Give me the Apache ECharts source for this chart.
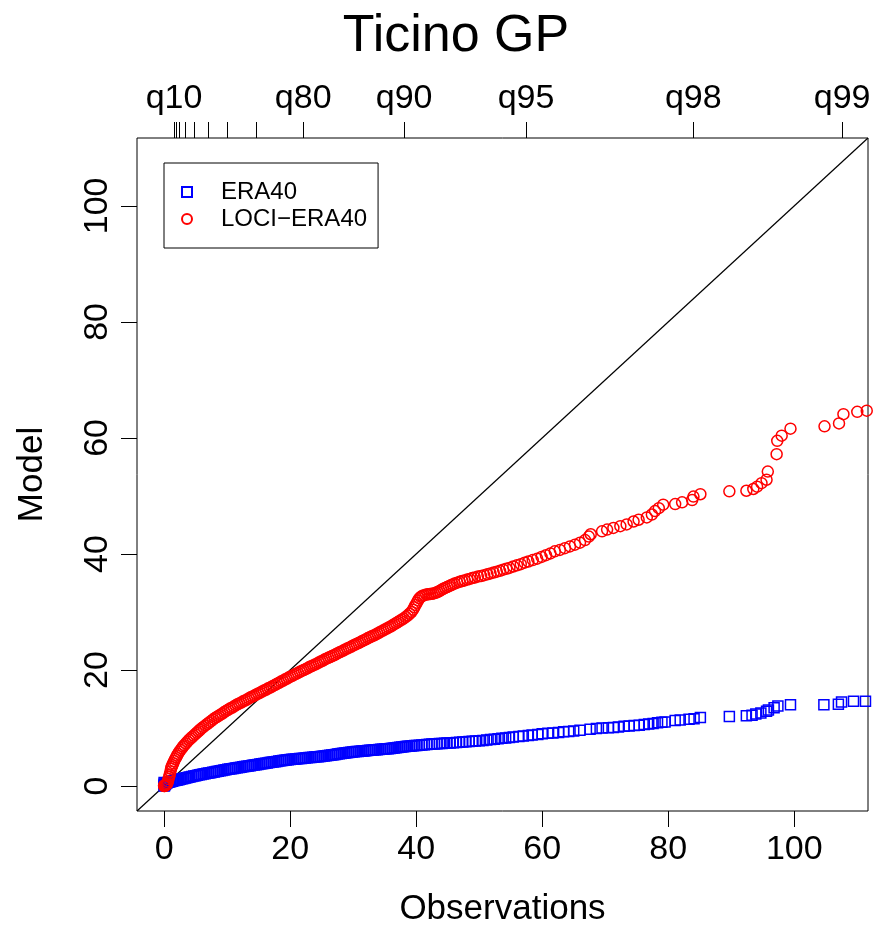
<!DOCTYPE html>
<html><head><meta charset="utf-8">
<script src="https://cdn.jsdelivr.net/npm/echarts@6/dist/echarts.min.js"></script>
<style>html,body{margin:0;padding:0;background:#fff}#c{width:890px;height:932px}</style>
</head><body><div id="c"></div>
<script>
const titleText = 'Ticino GP';
const xName = 'Observations';
const yName = 'Model';
const seriesNames = ['ERA40', 'LOCI\u2212ERA40'];
const axisMin = -4.3, axisMax = 111.7;
const bottomTicks = [0, 20, 40, 60, 80, 100];
const leftTicks = [0, 20, 40, 60, 80, 100];
const topTickValues = [1.57, 1.95, 2.40, 3.38, 4.81, 6.93, 9.99, 14.66, 22.07, 38.09, 57.43, 83.97, 107.59];
const topTickLabels = ['q10', '', '', '', '', '', '', '', 'q80', 'q90', 'q95', 'q98', 'q99'];

const era40 = [[0,0],[0,0.3],[0,0.6],[0.1,0.1],[0.2,0.3],[0.3,0.45],[0.5,0.55],[0.7,0.65],[0.9,0.72],[1.1,0.78],[1.3,0.84],[1.5,0.9],[1.7,0.95],[1.9,1.0],[2.1,1.05],[2.35,1.1],[2.6,1.17],[2.85,1.24],[3.1,1.31],[3.35,1.38],[3.6,1.45],[3.85,1.52],[4.1,1.58],[4.4,1.65],[4.7,1.72],[5.0,1.79],[5.3,1.86],[5.6,1.93],[5.9,2.0],[6.2,2.06],[6.5,2.12],[6.8,2.19],[7.1,2.25],[7.4,2.31],[7.7,2.38],[8.0,2.44],[8.3,2.5],[8.6,2.57],[8.9,2.63],[9.2,2.7],[9.5,2.76],[9.8,2.82],[10.1,2.88],[10.4,2.93],[10.7,2.98],[11.0,3.04],[11.3,3.1],[11.6,3.15],[11.9,3.2],[12.2,3.25],[12.5,3.31],[12.8,3.37],[13.1,3.42],[13.4,3.47],[13.7,3.52],[14.0,3.57],[14.3,3.62],[14.6,3.67],[14.9,3.72],[15.2,3.78],[15.5,3.83],[15.8,3.88],[16.1,3.93],[16.4,3.98],[16.7,4.04],[17.0,4.1],[17.3,4.15],[17.6,4.2],[17.9,4.25],[18.2,4.3],[18.5,4.35],[18.8,4.4],[19.1,4.44],[19.4,4.48],[19.7,4.52],[20.0,4.56],[20.3,4.6],[20.6,4.64],[20.9,4.68],[21.2,4.71],[21.5,4.74],[21.8,4.77],[22.1,4.8],[22.4,4.83],[22.7,4.86],[23.0,4.9],[23.3,4.93],[23.6,4.96],[23.9,5.0],[24.2,5.03],[24.5,5.06],[24.8,5.09],[25.1,5.12],[25.4,5.16],[25.7,5.21],[26.0,5.26],[26.3,5.31],[26.6,5.36],[26.9,5.41],[27.2,5.46],[27.5,5.51],[27.8,5.56],[28.1,5.61],[28.4,5.66],[28.7,5.71],[29.0,5.76],[29.3,5.8],[29.6,5.84],[29.9,5.88],[30.2,5.91],[30.5,5.94],[30.8,5.97],[31.1,6.0],[31.4,6.03],[31.7,6.06],[32.0,6.09],[32.3,6.12],[32.6,6.15],[32.9,6.18],[33.2,6.21],[33.5,6.24],[33.8,6.27],[34.1,6.3],[34.4,6.33],[34.7,6.36],[35.0,6.39],[35.3,6.42],[35.6,6.45],[35.9,6.49],[36.2,6.53],[36.5,6.57],[36.8,6.61],[37.1,6.65],[37.4,6.69],[37.7,6.73],[38.0,6.77],[38.3,6.81],[38.6,6.85],[38.9,6.88],[39.2,6.91],[39.5,6.94],[39.8,6.97],[40.1,7.0],[40.5,7.04],[40.9,7.08],[41.3,7.12],[41.7,7.16],[42.1,7.2],[42.5,7.23],[42.9,7.26],[43.3,7.29],[43.7,7.32],[44.1,7.35],[44.5,7.38],[44.9,7.41],[45.4,7.44],[45.9,7.48],[46.4,7.52],[46.9,7.56],[47.4,7.6],[47.9,7.64],[48.4,7.68],[48.9,7.72],[49.4,7.76],[50.0,7.8],[50.6,7.87],[51.2,7.94],[51.8,8.01],[52.4,8.08],[53.0,8.15],[53.6,8.22],[54.2,8.29],[54.8,8.36],[55.4,8.44],[56.3,8.55],[57.0,8.62],[57.8,8.7],[58.4,8.8],[59.3,8.9],[60.0,9.0],[60.9,9.1],[61.7,9.15],[62.6,9.25],[63.4,9.35],[64.2,9.42],[65.0,9.5],[66.0,9.6],[67.6,9.8],[68.6,9.9],[69.5,10.0],[70.5,10.05],[71.3,10.1],[72.1,10.2],[73.0,10.3],[73.8,10.35],[74.6,10.45],[75.4,10.5],[76.2,10.6],[76.9,10.7],[77.6,10.8],[78.3,10.9],[79.0,11.0],[79.5,11.05],[81.1,11.3],[81.9,11.4],[83.3,11.5],[84.1,11.6],[85.1,11.8],[89.7,12.0],[92.4,12.1],[93.3,12.2],[93.9,12.4],[94.7,12.6],[95.6,12.9],[95.9,13.1],[96.8,13.5],[97.4,13.8],[99.4,14.0],[104.7,14.0],[107.0,14.1],[107.5,14.5],[109.4,14.6],[111.3,14.6]];

const lociEra40 = [[0,0],[0,0.1],[0.1,0],[0.2,0.1],[0.3,0.2],[0.4,0.3],[0.5,0.5],[0.6,0.8],[0.7,1.2],[0.8,1.6],[0.9,2.0],[1.0,2.5],[1.1,3.0],[1.2,3.3],[1.3,3.6],[1.45,3.95],[1.6,4.3],[1.75,4.65],[1.9,4.95],[2.05,5.25],[2.2,5.55],[2.4,5.9],[2.6,6.2],[2.8,6.5],[3.0,6.8],[3.2,7.05],[3.45,7.35],[3.7,7.65],[3.95,7.95],[4.2,8.2],[4.45,8.45],[4.7,8.7],[4.95,8.95],[5.2,9.2],[5.45,9.45],[5.7,9.7],[5.95,9.95],[6.25,10.2],[6.55,10.45],[6.85,10.7],[7.15,10.95],[7.45,11.2],[7.75,11.45],[8.05,11.7],[8.35,11.9],[8.65,12.1],[8.95,12.3],[9.25,12.5],[9.55,12.75],[9.85,12.95],[10.15,13.15],[10.45,13.35],[10.75,13.5],[11.05,13.7],[11.35,13.9],[11.65,14.1],[11.95,14.25],[12.25,14.4],[12.55,14.6],[12.85,14.75],[13.15,14.9],[13.45,15.1],[13.75,15.3],[14.05,15.45],[14.35,15.6],[14.65,15.8],[14.95,15.95],[15.25,16.1],[15.55,16.3],[15.85,16.45],[16.15,16.6],[16.45,16.8],[16.75,16.95],[17.05,17.1],[17.35,17.3],[17.65,17.45],[17.95,17.65],[18.25,17.8],[18.55,18.0],[18.85,18.15],[19.15,18.35],[19.45,18.5],[19.75,18.7],[20.05,18.85],[20.35,19.0],[20.65,19.2],[20.95,19.35],[21.25,19.5],[21.55,19.7],[21.85,19.85],[22.15,20.0],[22.45,20.15],[22.75,20.3],[23.05,20.5],[23.35,20.65],[23.65,20.8],[23.95,20.95],[24.25,21.1],[24.55,21.3],[24.85,21.45],[25.15,21.6],[25.45,21.8],[25.75,21.95],[26.05,22.1],[26.35,22.25],[26.65,22.4],[26.95,22.55],[27.25,22.7],[27.55,22.9],[27.85,23.05],[28.15,23.2],[28.45,23.35],[28.75,23.55],[29.05,23.7],[29.35,23.85],[29.65,24.0],[29.95,24.2],[30.25,24.35],[30.55,24.5],[30.85,24.65],[31.15,24.8],[31.45,25.0],[31.75,25.15],[32.05,25.3],[32.35,25.5],[32.65,25.65],[32.95,25.8],[33.25,25.95],[33.55,26.1],[33.85,26.3],[34.15,26.45],[34.45,26.65],[34.75,26.8],[35.05,27.0],[35.35,27.15],[35.65,27.35],[35.95,27.5],[36.25,27.7],[36.55,27.9],[36.85,28.1],[37.15,28.3],[37.45,28.5],[37.75,28.7],[38.05,28.9],[38.35,29.15],[38.65,29.4],[38.95,29.7],[39.25,30.0],[39.5,30.4],[39.7,30.8],[39.9,31.2],[40.1,31.6],[40.3,32.0],[40.5,32.35],[40.75,32.6],[41.0,32.8],[41.3,32.9],[41.6,33.0],[41.9,33.05],[42.2,33.1],[42.5,33.15],[42.8,33.2],[43.1,33.3],[43.4,33.45],[43.7,33.6],[44.0,33.8],[44.3,34.0],[44.6,34.15],[44.9,34.3],[45.2,34.45],[45.5,34.6],[45.8,34.75],[46.1,34.9],[46.5,35.05],[46.9,35.2],[47.3,35.35],[47.7,35.45],[48.1,35.6],[48.5,35.7],[48.9,35.85],[49.3,35.95],[49.8,36.1],[50.3,36.2],[50.8,36.35],[51.3,36.5],[51.8,36.65],[52.3,36.8],[52.8,36.95],[53.3,37.1],[53.8,37.3],[54.3,37.45],[54.8,37.6],[55.4,37.85],[56.0,38.05],[56.6,38.25],[57.2,38.5],[57.8,38.7],[58.5,38.95],[59.2,39.2],[59.9,39.5],[60.6,39.8],[61.3,40.1],[62.0,40.45],[62.8,40.7],[63.6,41.0],[64.4,41.3],[65.2,41.6],[66.0,41.95],[66.8,42.4],[67.4,43.0],[67.7,43.4],[69.5,43.9],[70.3,44.2],[71.3,44.5],[72.4,44.8],[73.4,45.1],[74.5,45.6],[75.3,45.9],[76.6,46.3],[77.4,46.8],[77.9,47.4],[78.5,47.9],[79.2,48.5],[81.1,48.6],[82.2,48.9],[83.8,49.3],[84.0,49.9],[85.1,50.3],[89.7,50.8],[92.4,50.9],[93.5,51.2],[94.1,51.6],[94.8,52.2],[95.6,52.8],[95.8,54.2],[97.2,57.2],[97.3,59.5],[98.0,60.4],[99.4,61.6],[104.8,62.0],[107.1,62.5],[107.8,64.1],[110.0,64.5],[111.5,64.7]];

const FONT = 'Liberation Sans, Arial, Helvetica, sans-serif';
const chart = echarts.init(document.getElementById('c'), null, {renderer: 'canvas'});
const topLabelValues = topTickValues.filter((v, i) => topTickLabels[i] !== '');
function topLabelFor(v) {
  let best = 0, d = Infinity;
  topTickValues.forEach((t, i) => { const dd = Math.abs(t - v); if (dd < d) { d = dd; best = i; } });
  return topTickLabels[best];
}
const diag = [[axisMin, axisMin], [axisMax, axisMax]];

chart.setOption({
  animation: false,
  backgroundColor: '#fff',
  title: {
    text: titleText, left: 451, top: 6, textAlign: 'center',
    textStyle: {fontFamily: FONT, fontSize: 52, fontWeight: 'normal', color: '#000'}
  },
  legend: {
    data: seriesNames, orient: 'vertical', left: 164, top: 163,
    padding: [17, 11, 17, 17], itemGap: 3, itemWidth: 10, itemHeight: 10,
    borderColor: '#000', borderWidth: 1, backgroundColor: '#fff',
    textStyle: {fontFamily: FONT, fontSize: 24, color: '#000', lineHeight: 24, padding: [0, 0, 0, 24]}
  },
  grid: {left: 137, right: 22, top: 138, bottom: 118, show: true, borderColor: '#000', borderWidth: 1, backgroundColor: 'transparent'},
  xAxis: [{
    type: 'value', min: axisMin, max: axisMax, position: 'bottom',
    axisLine: {show: false, onZero: false}, splitLine: {show: false},
    axisTick: {show: true, inside: false, customValues: bottomTicks, length: 16, lineStyle: {color: '#000', width: 1}},
    axisLabel: {customValues: bottomTicks, fontFamily: FONT, fontSize: 34, color: '#000', margin: 22},
    name: xName, nameLocation: 'middle', nameGap: 81,
    nameTextStyle: {fontFamily: FONT, fontSize: 35, color: '#000'}
  }, {
    type: 'value', min: axisMin, max: axisMax, position: 'top',
    axisLine: {show: false, onZero: false}, splitLine: {show: false},
    axisTick: {show: true, inside: false, customValues: topTickValues, length: 16, lineStyle: {color: '#000', width: 1}},
    axisLabel: {customValues: topLabelValues, fontFamily: FONT, fontSize: 34, color: '#000', margin: 22, formatter: topLabelFor}
  }],
  yAxis: [{
    type: 'value', min: axisMin, max: axisMax, position: 'left',
    axisLine: {show: false, onZero: false}, splitLine: {show: false},
    axisTick: {show: true, inside: false, customValues: leftTicks, length: 16, lineStyle: {color: '#000', width: 1}},
    axisLabel: {customValues: leftTicks, fontFamily: FONT, fontSize: 34, color: '#000', margin: 22, rotate: 90},
    name: yName, nameLocation: 'middle', nameGap: 87, nameRotate: 90,
    nameTextStyle: {fontFamily: FONT, fontSize: 35, color: '#000'}
  }],
  series: [{
    type: 'line', name: 'diag', data: diag, xAxisIndex: 0, yAxisIndex: 0,
    symbol: 'none', silent: true, lineStyle: {color: '#000', width: 1.2}, z: 1
  }, {
    type: 'scatter', name: seriesNames[0], data: era40, xAxisIndex: 0, yAxisIndex: 0,
    symbol: 'rect', symbolSize: 10, z: 2,
    itemStyle: {color: 'rgba(0,0,0,0)', borderColor: '#0000ff', borderWidth: 1.5, opacity: 1}
  }, {
    type: 'scatter', name: seriesNames[1], data: lociEra40, xAxisIndex: 0, yAxisIndex: 0,
    symbol: 'circle', symbolSize: 11, z: 3,
    itemStyle: {color: 'rgba(0,0,0,0)', borderColor: '#ff0000', borderWidth: 1.5, opacity: 1}
  }]
});
</script></body></html>
